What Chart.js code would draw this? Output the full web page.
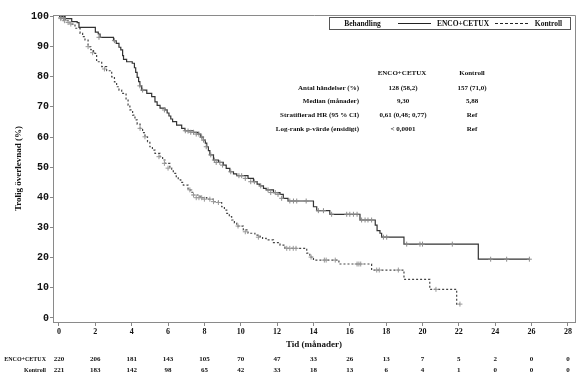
<!DOCTYPE html>
<html><head><meta charset="utf-8">
<script src="https://cdn.jsdelivr.net/npm/chart.js@4.4.0/dist/chart.umd.min.js"></script>
<style>html,body{margin:0;padding:0;background:#fff}#wrap{width:586px;height:384px;position:relative}</style>
</head><body><div id="wrap"><canvas id="c" width="586" height="384"></canvas></div>
<script>
// ---- Data ----
const xTicks = [0,2,4,6,8,10,12,14,16,18,20,22,24,26,28];
const yTicks = [0,10,20,30,40,50,60,70,80,90,100];

const encoTimes = [0,0.33,0.7,1.0,1.1,2.0,2.16,2.26,3.0,3.15,3.3,3.4,3.5,3.55,3.72,4.03,4.15,4.22,4.3,4.38,4.45,4.55,4.83,5.1,5.28,5.4,5.56,5.83,5.95,6.05,6.15,6.25,6.47,6.75,6.93,7.4,7.66,7.8,7.94,8.05,8.13,8.22,8.3,8.5,8.77,9.04,9.2,9.4,9.6,9.78,10.4,10.7,10.9,11.06,11.25,11.4,11.8,12.16,12.34,12.6,14.0,14.18,14.9,16.56,17.4,17.5,17.66,17.75,18.98,23.07,25.88];
const encoSurv  = [100,99.3,98.3,98.0,96.4,94.8,94.2,93.1,92.0,91.1,89.8,88.9,87.0,85.8,85.0,84.5,83.0,81.5,79.8,78.4,77.0,75.6,74.5,73.4,71.7,70.5,69.6,69.0,68.0,67.0,66.0,65.1,64.0,62.9,62.1,61.6,61.0,60.0,59.0,58.0,56.8,55.5,54.1,52.4,51.6,50.7,49.6,48.5,47.8,47.2,46.3,45.2,44.4,43.8,43.0,42.5,41.6,41.0,39.7,38.8,36.9,35.6,34.4,32.5,30.8,29.0,28.1,26.8,24.5,19.5,19.5];

const kontTimes = [0,0.33,0.6,0.88,1.16,1.3,1.43,1.6,1.75,1.9,2.07,2.35,2.62,2.9,3.05,3.17,3.3,3.45,3.69,3.8,3.9,4.05,4.18,4.3,4.46,4.6,4.73,4.87,5.0,5.14,5.28,5.56,5.7,5.83,6.1,6.2,6.29,6.45,6.56,6.7,6.84,7.1,7.25,7.39,7.76,8.13,8.49,8.77,8.95,9.1,9.23,9.37,9.5,9.65,9.78,10.14,10.4,10.78,11.06,11.2,11.4,11.8,12.16,12.43,13.63,13.8,14.0,15.4,17.2,18.98,20.4,21.88,22.06];
const kontSurv  = [100,98.6,97.5,96.1,94.4,93.3,92.2,90.0,89.0,87.8,85.0,83.4,82.0,80.0,78.3,76.7,75.6,74.5,72.3,70.6,69.0,67.3,65.7,64.3,62.9,61.5,60.1,58.5,56.8,55.7,54.6,53.5,52.4,51.3,49.7,48.8,48.0,46.9,45.8,45.0,44.1,42.5,41.7,40.8,39.9,39.4,38.6,38.3,36.9,35.8,34.7,33.6,32.5,31.5,30.5,29.2,28.1,27.5,27.0,26.4,25.9,25.0,24.2,23.1,21.5,20.2,19.2,17.9,15.9,12.8,9.5,4.6,4.6];

const encoCensT = [0.1,0.25,2.2,3.05,4.45,4.6,5.8,6.95,7.1,7.25,7.4,7.55,7.7,7.85,7.95,8.1,8.35,8.55,8.65,8.85,9.0,9.45,9.9,10.05,10.25,10.55,10.75,11.1,11.5,11.65,11.9,12.05,12.25,12.7,12.9,13.08,13.6,14.27,14.55,15.0,15.83,16.0,16.2,16.4,16.65,16.84,17.0,17.2,17.85,18.03,19.13,19.86,20.0,21.64,23.75,24.63,25.88];
const encoCensS = [99.6,99.3,93.1,92.0,77.0,75.6,69.0,62.1,62.0,61.6,61.6,61.0,61.0,60.0,59.0,56.8,54.1,52.4,51.6,51.6,50.7,48.5,47.2,47.2,46.3,45.2,45.2,43.8,42.5,41.6,41.6,41.0,39.7,38.8,38.8,38.8,38.8,35.6,35.6,34.4,34.4,34.4,34.4,34.4,32.5,32.5,32.5,32.5,26.8,26.8,24.5,24.5,24.5,24.5,19.5,19.5,19.5];

const kontCensT = [0.1,0.3,0.5,0.65,1.6,1.85,2.5,4.46,4.73,5.5,5.8,6.0,7.2,7.4,7.55,7.7,7.85,8.0,8.3,8.5,8.77,9.85,10.25,10.97,12.53,12.7,12.89,13.04,13.87,14.6,14.7,15.2,16.4,16.5,16.6,17.48,17.62,18.67,20.74,22.06];
const kontCensS = [99.3,98.6,98.0,97.5,90.0,88.0,82.6,62.9,60.1,53.5,51.3,49.7,42.5,40.8,39.9,39.9,39.9,39.4,39.4,38.6,38.3,30.5,28.6,26.8,23.1,23.1,23.1,23.1,20.2,19.2,19.2,19.2,17.9,17.9,17.9,15.9,15.9,15.9,9.5,4.6];

const riskEnco = [220,206,181,143,105,70,47,33,26,13,7,5,2,0,0];
const riskKont = [221,183,142,98,65,42,33,18,13,6,4,1,0,0,0];

const statsCols = ['ENCO+CETUX','Kontroll'];
const statsRows = ['Antal händelser (%)','Median (månader)','Stratifierad HR (95 % CI)','Log-rank p-värde (ensidigt)'];
const statsEnco = ['128 (58,2)','9,30','0,61 (0,48; 0,77)','< 0,0001'];
const statsKont = ['157 (71,0)','5,88','Ref','Ref'];

const zip = (a,b) => a.map((v,i)=>({x:v,y:b[i]}));

const SERIF = '"Liberation Serif", "DejaVu Serif", serif';
const MONO = '"Liberation Mono", "DejaVu Sans Mono", monospace';

const overlay = {
  id:'overlay',
  afterDraw(chart){
    const ctx = chart.ctx, a = chart.chartArea, xs = chart.scales.x;
    ctx.save();
    // top/right frame
    ctx.strokeStyle = '#8a8a8a'; ctx.lineWidth = 1;
    ctx.beginPath();
    ctx.moveTo(a.left, a.top+0.5); ctx.lineTo(a.right+0.5, a.top+0.5); ctx.lineTo(a.right+0.5, a.bottom);
    ctx.stroke();
    // legend box
    ctx.strokeStyle = '#555';
    ctx.strokeRect(329.5, 17.5, 241, 12);
    ctx.fillStyle = '#111';
    ctx.font = 'bold 7.5px ' + SERIF;
    ctx.textBaseline = 'middle'; ctx.textAlign = 'center';
    ctx.fillText('Behandling', 362.5, 24);
    ctx.fillText('ENCO+CETUX', 463, 24);
    ctx.fillText('Kontroll', 548.5, 24);
    ctx.strokeStyle = '#222'; ctx.lineWidth = 1;
    ctx.beginPath(); ctx.moveTo(398, 23.5); ctx.lineTo(431, 23.5); ctx.stroke();
    ctx.setLineDash([3,2]);
    ctx.beginPath(); ctx.moveTo(495, 23.5); ctx.lineTo(528, 23.5); ctx.stroke();
    ctx.setLineDash([]);
    // stats table
    ctx.font = 'bold 7px ' + SERIF;
    ctx.fillText(statsCols[0], 402, 73);
    ctx.fillText(statsCols[1], 472, 73);
    const ry = [88.5, 101, 115.5, 129.5];
    statsRows.forEach((r,i)=>{
      ctx.textAlign = 'right'; ctx.fillText(r, 359, ry[i]);
      ctx.textAlign = 'center';
      ctx.fillText(statsEnco[i], 403, ry[i]);
      ctx.fillText(statsKont[i], 472, ry[i]);
    });
    // risk table
    ctx.font = 'bold 6px ' + SERIF;
    ctx.textAlign = 'right';
    ctx.fillText('ENCO+CETUX', 46, 359);
    ctx.fillText('Kontroll', 46, 370);
    ctx.font = 'bold 7px ' + SERIF;
    ctx.textAlign = 'center';
    xTicks.forEach((t,i)=>{
      const px = xs.getPixelForValue(t);
      ctx.fillText(String(riskEnco[i]), px, 359);
      ctx.fillText(String(riskKont[i]), px, 370);
    });
    ctx.restore();
  }
};

new Chart(document.getElementById('c'), {
  type:'line',
  data:{
    datasets:[
      {label:'ENCO+CETUX', data: zip(encoTimes, encoSurv), stepped:true, borderColor:'#333', borderWidth:1.2, pointRadius:0, fill:false, order:2},
      {label:'Kontroll', data: zip(kontTimes, kontSurv), stepped:true, borderColor:'#444', borderWidth:1.2, borderDash:[2,2], pointRadius:0, fill:false, order:2},
      {label:'c1', type:'scatter', data: zip(encoCensT, encoCensS), pointStyle:'cross', pointRadius:2.5, borderColor:'#8c8c8c', borderWidth:1, backgroundColor:'#8c8c8c', showLine:false, order:1},
      {label:'c2', type:'scatter', data: zip(kontCensT, kontCensS), pointStyle:'cross', pointRadius:2.5, borderColor:'#999', borderWidth:1, backgroundColor:'#999', showLine:false, order:1}
    ]
  },
  options:{
    responsive:false, animation:false, devicePixelRatio:1,
    layout:{padding:{top:15, right:11, left:0, bottom:0}},
    plugins:{legend:{display:false}, tooltip:{enabled:false}},
    scales:{
      x:{type:'linear', min:-0.33, max:28.39,
        afterBuildTicks(s){ s.ticks = xTicks.map(v=>({value:v})); },
        afterFit(s){ s.height = 62; },
        grid:{drawOnChartArea:false, drawTicks:true, tickLength:4, color:'#888'},
        border:{display:true, color:'#8a8a8a', width:1},
        ticks:{autoSkip:false, maxRotation:0, padding:1, color:'#111', font:{family:SERIF, size:8, weight:'bold'}},
        title:{display:true, text:'Tid (månader)', color:'#111', font:{family:SERIF, size:9, weight:'bold'}, padding:{top:0,bottom:34}}
      },
      y:{type:'linear', min:-1.33, max:100.5,
        afterBuildTicks(s){ s.ticks = yTicks.map(v=>({value:v})); },
        afterFit(s){ s.width = 53; },
        grid:{drawOnChartArea:false, drawTicks:true, tickLength:3, color:'#888'},
        border:{display:true, color:'#8a8a8a', width:1},
        ticks:{autoSkip:false, padding:1, color:'#111', font:{family:MONO, size:10, weight:'bold'}},
        title:{display:true, text:'Trolig överlevnad (%)', color:'#111', font:{family:SERIF, size:9, weight:'bold'}, padding:{top:13,bottom:0}}
      }
    }
  },
  plugins:[overlay]
});
</script>
</body></html>
